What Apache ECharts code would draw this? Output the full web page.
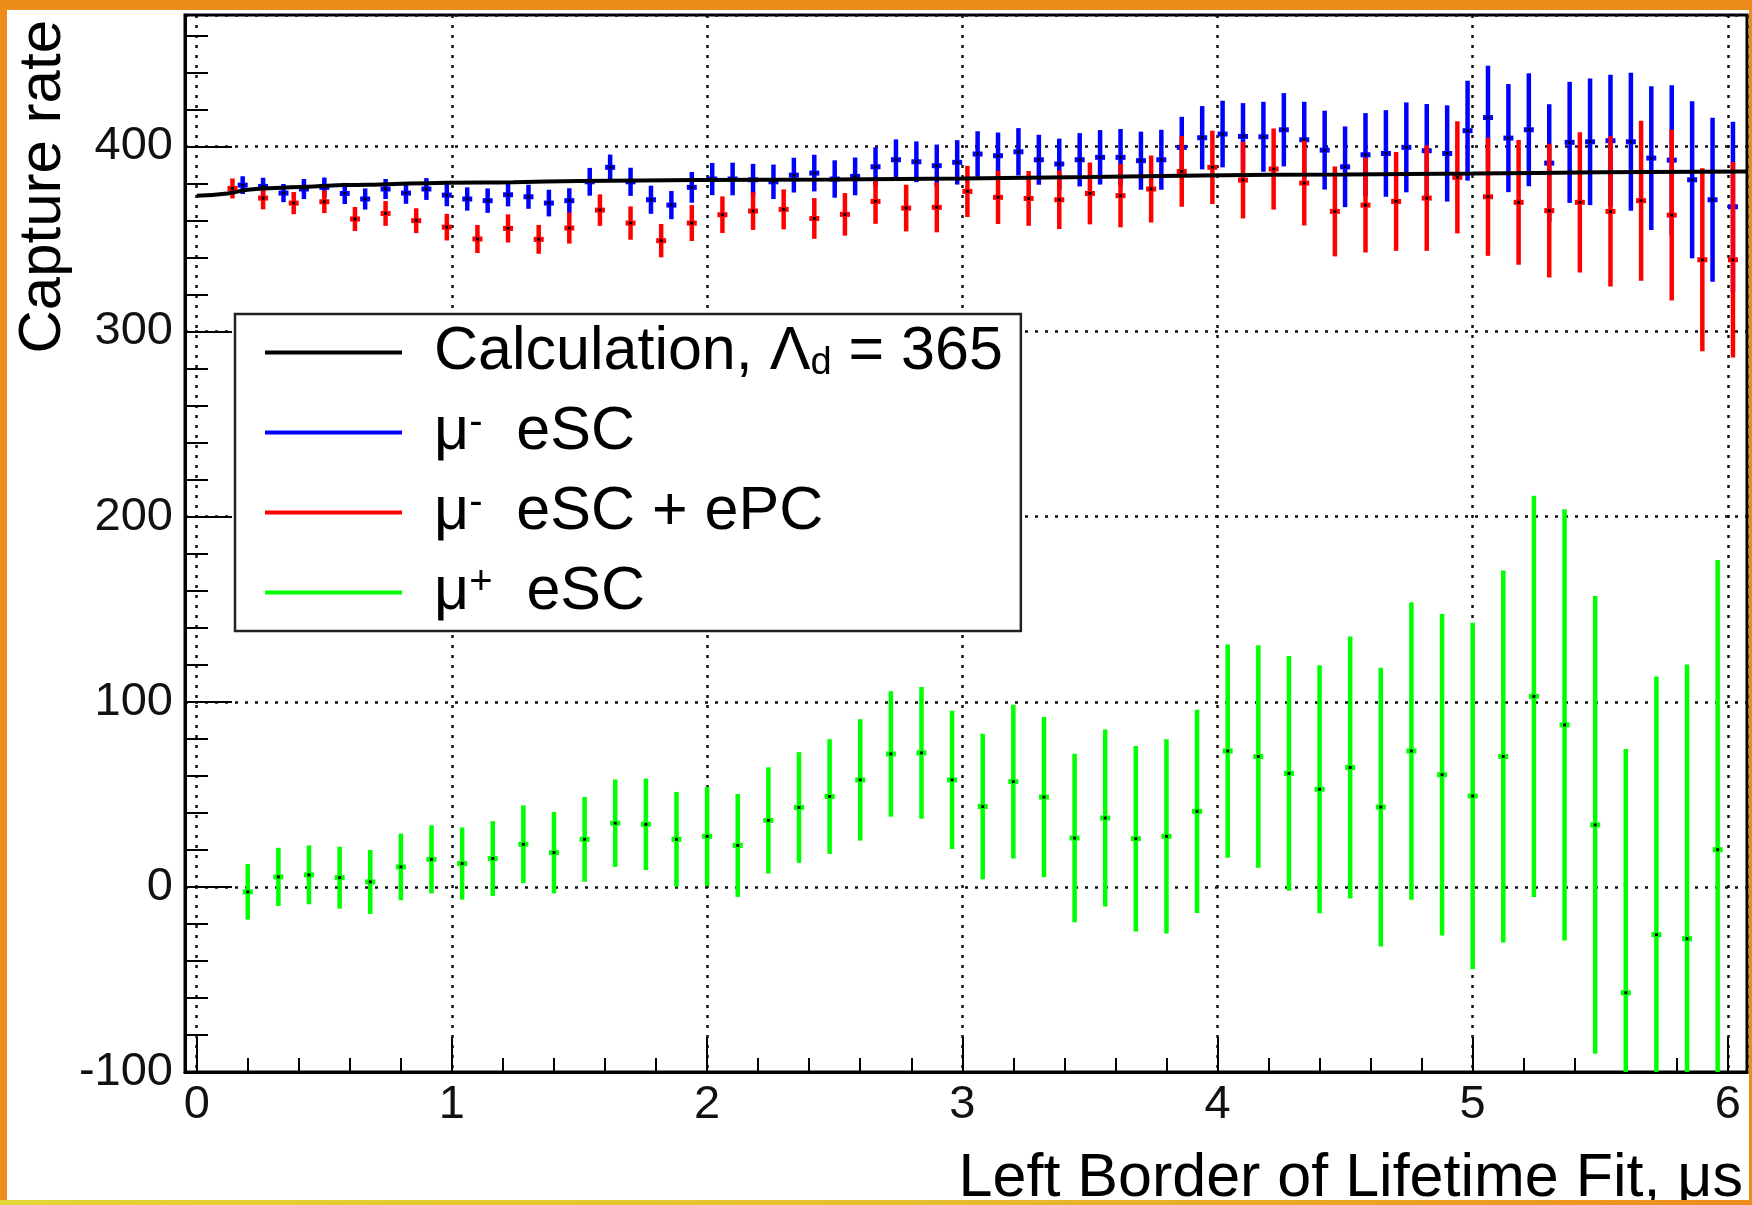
<!DOCTYPE html>
<html>
<head>
<meta charset="utf-8">
<title>Capture rate vs left border of lifetime fit</title>
<script src="https://cdn.jsdelivr.net/npm/echarts@6/dist/echarts.min.js"></script>
<style>
  html, body { margin: 0; padding: 0; background: #fff; }
  #chart { width: 1752px; height: 1205px; }
</style>
</head>
<body>
<div id="chart"></div>
<script>
// mu- eSC (blue)
const blueX = [0.18,0.26,0.34,0.42,0.50,0.58,0.66,0.74,0.82,0.90,0.98,1.06,1.14,1.22,1.30,1.38,1.46,1.54,1.62,1.70,1.78,1.86,1.94,2.02,2.10,2.18,2.26,2.34,2.42,2.50,2.58,2.66,2.74,2.82,2.90,2.98,3.06,3.14,3.22,3.30,3.38,3.46,3.54,3.62,3.70,3.78,3.86,3.94,4.02,4.10,4.18,4.26,4.34,4.42,4.50,4.58,4.66,4.74,4.82,4.90,4.98,5.06,5.14,5.22,5.30,5.38,5.46,5.54,5.62,5.70,5.78,5.86,5.94,6.02];
const blueY = [379.1,378.4,374.8,377.0,377.9,374.6,371.6,377.0,374.8,377.0,373.7,371.6,370.7,373.9,372.8,369.4,370.7,380.9,388.7,380.9,371.2,368.3,377.9,382.4,382.4,382.0,380.9,384.5,385.6,382.4,383.8,389.0,392.8,391.7,389.6,391.4,395.9,395.0,397.1,392.8,390.5,392.8,394.1,394.1,392.3,392.8,399.5,404.7,406.7,405.4,405.2,409.0,403.6,398.0,389.0,395.5,396.2,399.5,397.7,396.2,408.5,415.6,404.5,409.0,391.0,402.2,402.5,403.1,402.5,393.7,392.6,382.0,371.2,367.4];
const blueErr = [4.8,4.7,4.9,5.4,5.3,5.7,5.7,5.4,5.8,5.9,6.0,6.3,6.6,6.3,6.5,7.2,6.7,7.5,6.9,7.6,7.6,7.6,8.3,8.7,8.8,8.6,9.3,9.4,9.9,10.1,10.2,10.5,11.0,11.0,11.4,12.0,12.3,12.5,12.8,13.5,13.7,14.4,14.7,15.3,15.7,16.2,16.5,17.1,18.0,18.0,18.9,19.8,20.5,21.3,21.8,22.5,23.4,24.3,25.2,26.0,27.0,28.0,29.2,30.5,31.8,32.7,34.2,35.6,37.3,38.8,40.5,42.4,44.3,46.0];

// mu- eSC + ePC (red)
const redX = [0.14,0.26,0.38,0.50,0.62,0.74,0.86,0.98,1.10,1.22,1.34,1.46,1.58,1.70,1.82,1.94,2.06,2.18,2.30,2.42,2.54,2.66,2.78,2.90,3.02,3.14,3.26,3.38,3.50,3.62,3.74,3.86,3.98,4.10,4.22,4.34,4.46,4.58,4.70,4.82,4.94,5.06,5.18,5.30,5.42,5.54,5.66,5.78,5.90,6.02];
const redY = [377.3,372.1,369.4,370.1,360.8,363.8,359.9,356.4,350.0,355.7,349.8,355.9,365.6,358.6,349.1,358.6,363.1,365.1,366.0,361.1,363.3,370.3,366.7,367.1,375.7,372.5,371.9,371.2,374.6,373.4,377.0,386.5,388.7,381.8,387.8,380.2,364.9,368.3,370.3,372.1,383.3,372.8,369.8,365.3,369.8,364.9,370.7,362.9,338.8,338.8];
const redErr = [5.4,6.1,6.0,6.1,6.5,6.7,6.7,7.2,7.6,7.6,7.8,8.4,8.5,9.0,9.0,9.7,9.9,10.2,10.8,11.0,11.5,12.1,12.6,13.5,13.8,14.4,14.8,15.8,16.7,17.1,18.1,19.1,19.8,20.7,21.9,22.9,24.3,25.6,26.7,28.5,30.3,31.9,33.7,36.1,37.9,40.6,43.2,46.1,49.4,52.8];

// mu+ eSC (green)
const greenX = [0.20,0.32,0.44,0.56,0.68,0.80,0.92,1.04,1.16,1.28,1.40,1.52,1.64,1.76,1.88,2.00,2.12,2.24,2.36,2.48,2.60,2.72,2.84,2.96,3.08,3.20,3.32,3.44,3.56,3.68,3.80,3.92,4.04,4.16,4.28,4.40,4.52,4.64,4.76,4.88,5.00,5.12,5.24,5.36,5.48,5.60,5.72,5.84,5.96];
const greenY = [-2.7,5.4,6.5,5.0,2.7,10.8,14.9,12.6,15.3,23.0,18.5,25.7,34.4,33.8,25.7,27.3,22.4,35.9,42.9,48.8,57.8,71.8,72.4,57.8,43.4,56.9,48.5,26.4,37.2,26.0,27.3,40.8,73.4,70.4,61.3,52.7,64.5,43.1,73.4,60.6,49.1,70.4,102.9,87.5,33.5,-57.2,-25.8,-28.0,20.1];
const greenErr = [15.0,15.7,15.9,16.7,17.3,18.0,18.4,19.5,20.2,21.0,22.0,22.9,23.6,24.7,25.6,26.7,27.8,28.7,29.9,31.0,32.8,33.9,35.6,37.3,39.3,41.5,43.3,45.5,47.8,50.1,52.5,54.9,57.6,60.1,63.4,67.0,70.8,75.3,80.4,86.8,93.6,100.5,108.4,116.5,123.6,131.7,139.4,148.2,156.5];

// calculation curve, Lambda_d = 365
const calcX = [0, 0.12, 0.2, 0.33, 0.46, 0.59, 0.72, 0.98, 1.24, 1.5, 1.97, 2.5, 3.0, 3.5, 3.93, 4.5, 5.0, 5.5, 6.075];
const calcY = [373.4, 374.6, 376.6, 377.7, 378.4, 379.1, 379.5, 380.4, 380.7, 381.3, 381.8, 382.2, 382.7, 383.5, 384.3, 384.9, 385.4, 386.0, 386.5];

const xTitle = 'Left Border of Lifetime Fit, μs';
const yTitle = 'Capture rate';

const seriesNames = ['calc', 'muMinus', 'muMinusPC', 'muPlus'];
const legendLabels = {
  calc: 'Calculation, Λ{sub|d} = 365',
  muMinus: 'μ{sup|-}  eSC',
  muMinusPC: 'μ{sup|-}  eSC + ePC',
  muPlus: 'μ{sup|+}  eSC'
};
const colors = { calc: '#000000', muMinus: '#0000ff', muMinusPC: '#ff0000', muPlus: '#00ff00' };

const FONT = "'Liberation Sans', Arial, Helvetica, sans-serif";
const ORANGE = '#ed8b1b';

function errorBars(name, xs, ys, errs, z) {
  const color = colors[name];
  return {
    name: name,
    type: 'custom',
    z: z,
    itemStyle: { color: color },
    data: xs.map(function (x, i) { return [x, ys[i], errs[i]]; }),
    encode: { x: 0, y: 1 },
    renderItem: function (params, api) {
      const x = api.value(0), y = api.value(1), e = api.value(2);
      const cs = params.coordSys;
      const top = api.coord([x, y + e]);
      const bot = api.coord([x, y - e]);
      const mid = api.coord([x, y]);
      const y1 = Math.max(top[1], cs.y);
      const y2 = Math.min(bot[1], cs.y + cs.height);
      const kids = [{
        type: 'line',
        shape: { x1: mid[0], y1: y1, x2: mid[0], y2: y2 },
        style: { stroke: color, lineWidth: 4.5 }
      }];
      if (mid[1] > cs.y && mid[1] < cs.y + cs.height) {
        kids.push({ type: 'rect', shape: { x: mid[0] - 5, y: mid[1] - 2.5, width: 10, height: 5 }, style: { fill: color } });
        kids.push({ type: 'rect', shape: { x: mid[0] - 1.5, y: mid[1] - 1.5, width: 3, height: 3 }, style: { fill: '#000' } });
      }
      return { type: 'group', children: kids };
    }
  };
}

const chart = echarts.init(document.getElementById('chart'));
chart.setOption({
  animation: false,
  backgroundColor: '#fff',
  grid: {
    left: 185, top: 15, right: 5, bottom: 133,
    containLabel: false,
    outerBoundsMode: 'none',
    show: true, borderColor: '#000', borderWidth: 3, backgroundColor: '#fff'
  },
  xAxis: {
    type: 'value',
    min: -0.046,
    max: 6.075,
    splitNumber: 6,
    axisLine: { show: true, onZero: false, lineStyle: { color: '#000', width: 3 } },
    axisTick: { show: true, inside: true, length: 35, lineStyle: { color: '#000', width: 2 } },
    minorTick: { show: true, splitNumber: 5, length: 14, lineStyle: { color: '#000', width: 2 } },
    splitLine: { show: true, lineStyle: { color: '#111', width: 2.5, type: [3, 7] } },
    axisLabel: {
      fontFamily: FONT, fontSize: 47, color: '#111', margin: 10,
      showMinLabel: false, showMaxLabel: false
    }
  },
  yAxis: {
    type: 'value',
    min: -100,
    max: 471,
    interval: 100,
    axisLine: { show: true, onZero: false, lineStyle: { color: '#000', width: 3 } },
    axisTick: { show: true, inside: true, length: 47, lineStyle: { color: '#000', width: 2 } },
    minorTick: { show: true, splitNumber: 5, length: 23, lineStyle: { color: '#000', width: 2 } },
    splitLine: { show: true, lineStyle: { color: '#111', width: 2.5, type: [3, 7] } },
    axisLabel: {
      fontFamily: FONT, fontSize: 47, color: '#111', margin: 12,
      showMaxLabel: false
    }
  },
  legend: {
    orient: 'vertical',
    left: 235,
    top: 314,
    z: 10,
    padding: [8, 18, 8, 30],
    itemGap: 19,
    itemWidth: 137,
    itemHeight: 4,
    selectedMode: false,
    backgroundColor: '#fff',
    borderColor: '#222',
    borderWidth: 2.5,
    data: seriesNames.map(function (n) {
      return { name: n, icon: 'rect', itemStyle: { color: colors[n] } };
    }),
    formatter: function (name) { return legendLabels[name]; },
    textStyle: {
      fontFamily: FONT, fontSize: 61, color: '#000', lineHeight: 60,
      padding: [0, 0, 0, 27],
      rich: {
        sub: { fontFamily: FONT, fontSize: 38, color: '#000', lineHeight: 22, verticalAlign: 'bottom' },
        sup: { fontFamily: FONT, fontSize: 40, color: '#000', lineHeight: 22, verticalAlign: 'top' }
      }
    }
  },
  graphic: [
    {
      type: 'text', x: 43, y: 20, rotation: Math.PI / 2,
      style: { text: yTitle, font: '60px ' + FONT, fill: '#000', align: 'right', verticalAlign: 'middle' }
    },
    {
      type: 'text', x: 1743, y: 1179,
      style: { text: xTitle, font: '61px ' + FONT, fill: '#000', align: 'right', verticalAlign: 'middle' }
    },
    { type: 'rect', z: 100, shape: { x: 0, y: 0, width: 1752, height: 10 }, style: { fill: ORANGE } },
    { type: 'rect', z: 100, shape: { x: 0, y: 0, width: 7, height: 1205 }, style: { fill: ORANGE } },
    { type: 'rect', z: 100, shape: { x: 1749, y: 0, width: 3, height: 1205 }, style: { fill: ORANGE } },
    {
      type: 'rect', z: 100, shape: { x: 0, y: 1200, width: 1752, height: 5 },
      style: {
        fill: new echarts.graphic.LinearGradient(0, 0, 1, 0, [
          { offset: 0, color: '#e3d435' },
          { offset: 0.5, color: '#e5c02f' },
          { offset: 1, color: '#ee8c1c' }
        ])
      }
    }
  ],
  series: [
    errorBars('muPlus', greenX, greenY, greenErr, 2),
    errorBars('muMinus', blueX, blueY, blueErr, 3),
    errorBars('muMinusPC', redX, redY, redErr, 4),
    {
      name: 'calc',
      type: 'line',
      z: 5,
      smooth: true,
      showSymbol: false,
      itemStyle: { color: colors.calc },
      lineStyle: { color: colors.calc, width: 4 },
      data: calcX.map(function (x, i) { return [x, calcY[i]]; })
    }
  ]
});
</script>
</body>
</html>
